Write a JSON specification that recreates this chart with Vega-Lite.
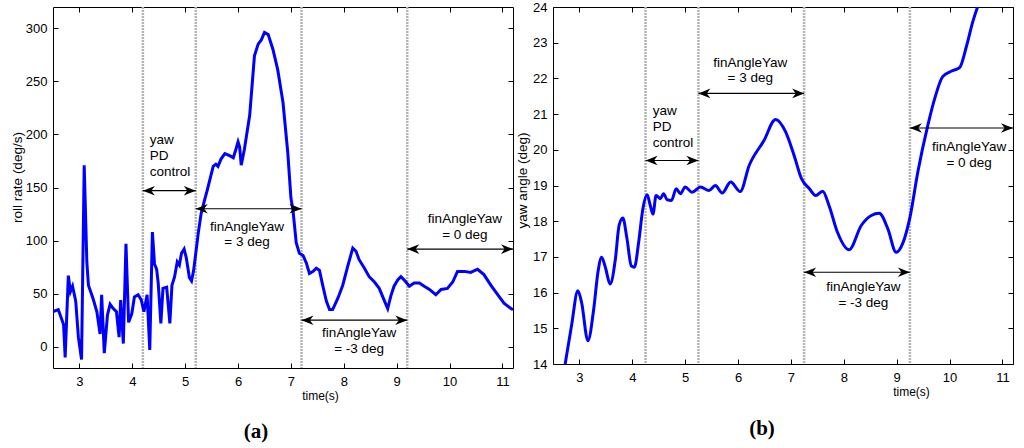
{
"$schema": "https://vega.github.io/schema/vega-lite/v6.json",
"padding": {"left": 9, "top": 0, "right": 0, "bottom": 0},
"background": "white",
"spacing": 0,
"config": {
  "font": "Liberation Sans",
  "view": {"stroke": "#000", "strokeWidth": 1},
  "axis": {"domain": false, "grid": false, "labelFont": "Liberation Sans", "labelFontSize": 13, "labelColor": "#000", "titleFont": "Liberation Sans", "titleFontWeight": "normal", "titleColor": "#000", "titleFontSize": 13.5},
  "text": {"font": "Liberation Sans", "fontSize": 13.5, "color": "#000"}
},
"datasets": {
  "roll": [
    {"t":2.5,"v":33},{"t":2.6,"v":35},{"t":2.7,"v":21},{"t":2.73,"v":-10},{"t":2.79,"v":67},{"t":2.83,"v":52},{"t":2.87,"v":57},{"t":2.93,"v":43},{"t":2.98,"v":9},{"t":3.04,"v":-12},{"t":3.09,"v":171},{"t":3.14,"v":80},{"t":3.17,"v":58},{"t":3.26,"v":45},{"t":3.33,"v":33},{"t":3.39,"v":12},{"t":3.42,"v":49},{"t":3.47,"v":-6},{"t":3.53,"v":30},{"t":3.58,"v":40},{"t":3.64,"v":36},{"t":3.7,"v":33},{"t":3.75,"v":9},{"t":3.78,"v":44},{"t":3.83,"v":3},{"t":3.88,"v":97},{"t":3.93,"v":23},{"t":3.99,"v":31},{"t":4.04,"v":47},{"t":4.11,"v":49},{"t":4.17,"v":44},{"t":4.22,"v":33},{"t":4.28,"v":49},{"t":4.33,"v":-3},{"t":4.38,"v":108},{"t":4.42,"v":78},{"t":4.46,"v":73},{"t":4.49,"v":60},{"t":4.54,"v":22},{"t":4.58,"v":55},{"t":4.65,"v":56},{"t":4.71,"v":22},{"t":4.75,"v":58},{"t":4.8,"v":66},{"t":4.85,"v":80},{"t":4.89,"v":77},{"t":4.93,"v":88},{"t":4.98,"v":92},{"t":5.02,"v":84},{"t":5.08,"v":65},{"t":5.12,"v":62},{"t":5.16,"v":72},{"t":5.2,"v":88},{"t":5.25,"v":108},{"t":5.3,"v":125},{"t":5.36,"v":137},{"t":5.42,"v":148},{"t":5.48,"v":160},{"t":5.53,"v":170},{"t":5.58,"v":172},{"t":5.62,"v":170},{"t":5.68,"v":177},{"t":5.75,"v":182},{"t":5.84,"v":180},{"t":5.91,"v":178},{"t":5.96,"v":186},{"t":6.0,"v":193},{"t":6.03,"v":188},{"t":6.06,"v":171},{"t":6.12,"v":186},{"t":6.22,"v":218},{"t":6.31,"v":274},{"t":6.38,"v":285},{"t":6.44,"v":289},{"t":6.5,"v":296},{"t":6.57,"v":294},{"t":6.66,"v":280},{"t":6.75,"v":261},{"t":6.85,"v":230},{"t":6.94,"v":183},{"t":7.0,"v":140},{"t":7.04,"v":128},{"t":7.1,"v":98},{"t":7.16,"v":88},{"t":7.23,"v":86},{"t":7.29,"v":79},{"t":7.35,"v":69},{"t":7.42,"v":71},{"t":7.48,"v":74},{"t":7.54,"v":72},{"t":7.6,"v":58},{"t":7.67,"v":43},{"t":7.73,"v":35},{"t":7.79,"v":35},{"t":7.89,"v":46},{"t":7.98,"v":58},{"t":8.08,"v":77},{"t":8.17,"v":93},{"t":8.23,"v":90},{"t":8.29,"v":82},{"t":8.39,"v":74},{"t":8.48,"v":66},{"t":8.58,"v":61},{"t":8.67,"v":55},{"t":8.77,"v":43},{"t":8.83,"v":36},{"t":8.89,"v":48},{"t":8.95,"v":57},{"t":9.02,"v":63},{"t":9.08,"v":66},{"t":9.14,"v":63},{"t":9.24,"v":57},{"t":9.33,"v":60},{"t":9.43,"v":60},{"t":9.52,"v":57},{"t":9.62,"v":54},{"t":9.74,"v":49},{"t":9.84,"v":54},{"t":9.96,"v":55},{"t":10.06,"v":61},{"t":10.15,"v":71},{"t":10.28,"v":71},{"t":10.4,"v":70},{"t":10.53,"v":73},{"t":10.65,"v":68},{"t":10.78,"v":58},{"t":10.91,"v":49},{"t":11.03,"v":41},{"t":11.16,"v":36},{"t":11.2,"v":35}
  ],
  "yaw": [
    {"t":2.73,"v":14.0},{"t":2.85,"v":15.07},{"t":2.97,"v":16.05},{"t":3.04,"v":15.73},{"t":3.16,"v":14.65},{"t":3.27,"v":15.54},{"t":3.35,"v":16.57},{"t":3.42,"v":16.99},{"t":3.49,"v":16.71},{"t":3.58,"v":16.24},{"t":3.68,"v":16.94},{"t":3.75,"v":17.88},{"t":3.82,"v":18.09},{"t":3.9,"v":17.5},{"t":3.98,"v":16.75},{"t":4.04,"v":16.71},{"t":4.12,"v":17.41},{"t":4.2,"v":18.35},{"t":4.28,"v":18.74},{"t":4.34,"v":18.44},{"t":4.39,"v":18.2},{"t":4.45,"v":18.72},{"t":4.53,"v":18.63},{"t":4.59,"v":18.77},{"t":4.66,"v":18.6},{"t":4.74,"v":18.58},{"t":4.83,"v":18.91},{"t":4.91,"v":18.77},{"t":5.0,"v":18.96},{"t":5.13,"v":18.81},{"t":5.29,"v":18.96},{"t":5.45,"v":18.86},{"t":5.57,"v":19.0},{"t":5.7,"v":18.79},{"t":5.86,"v":19.1},{"t":6.04,"v":18.83},{"t":6.21,"v":19.56},{"t":6.49,"v":20.26},{"t":6.71,"v":20.85},{"t":6.9,"v":20.5},{"t":7.06,"v":19.84},{"t":7.2,"v":19.19},{"t":7.35,"v":18.91},{"t":7.47,"v":18.72},{"t":7.6,"v":18.84},{"t":7.72,"v":18.44},{"t":7.88,"v":17.69},{"t":8.1,"v":17.2},{"t":8.33,"v":17.88},{"t":8.52,"v":18.16},{"t":8.67,"v":18.22},{"t":8.83,"v":17.8},{"t":8.99,"v":17.13},{"t":9.12,"v":17.4},{"t":9.25,"v":18.1},{"t":9.4,"v":19.38},{"t":9.59,"v":20.69},{"t":9.72,"v":21.44},{"t":9.87,"v":22.05},{"t":10.03,"v":22.2},{"t":10.19,"v":22.3},{"t":10.32,"v":22.9},{"t":10.44,"v":23.59},{"t":10.53,"v":24.0}
  ],
  "vlinesA": [{"t":4.2},{"t":5.2},{"t":7.2},{"t":9.2}],
  "vlinesB": [{"t":4.25},{"t":5.25},{"t":7.25},{"t":9.25}],
  "arrowsA": [{"x1":4.2,"x2":5.2,"y":147},{"x1":5.2,"x2":7.2,"y":130},{"x1":7.2,"x2":9.2,"y":25},{"x1":9.2,"x2":11.2,"y":92}],
  "arrowsB": [{"x1":4.25,"x2":5.25,"y":19.7},{"x1":5.25,"x2":7.25,"y":21.58},{"x1":7.25,"x2":9.25,"y":16.57},{"x1":9.25,"x2":11.2,"y":20.61}],
  "labelsA": [
    {"t":4.33,"v":195,"text":"yaw","kind":"left"},{"t":4.33,"v":180,"text":"PD","kind":"left"},{"t":4.33,"v":165,"text":"control","kind":"left"},
    {"t":6.17,"v":113,"text":"finAngleYaw","kind":"center"},{"t":6.17,"v":99,"text":"= 3 deg","kind":"center"},
    {"t":8.29,"v":12.8,"text":"finAngleYaw","kind":"center"},{"t":8.29,"v":-2.2,"text":"= -3 deg","kind":"center"},
    {"t":10.29,"v":120.5,"text":"finAngleYaw","kind":"center"},{"t":10.29,"v":105.5,"text":"= 0 deg","kind":"center"}
  ],
  "labelsB": [
    {"t":4.385,"v":21.09,"text":"yaw","kind":"left"},{"t":4.385,"v":20.64,"text":"PD","kind":"left"},{"t":4.385,"v":20.19,"text":"control","kind":"left"},
    {"t":6.23,"v":22.44,"text":"finAngleYaw","kind":"center"},{"t":6.23,"v":22.0,"text":"= 3 deg","kind":"center"},
    {"t":8.37,"v":16.17,"text":"finAngleYaw","kind":"center"},{"t":8.37,"v":15.72,"text":"= -3 deg","kind":"center"},
    {"t":10.37,"v":20.08,"text":"finAngleYaw","kind":"center"},{"t":10.37,"v":19.64,"text":"= 0 deg","kind":"center"}
  ]
},
"hconcat": [
{
  "width": 460, "height": 361,
  "title": {"text": "(a)", "orient": "bottom", "frame": "group", "anchor": "middle", "dx": -27, "offset": 20, "font": "Liberation Serif", "fontSize": 21, "fontWeight": "bold", "color": "#000"},
  "resolve": {"axis": {"x": "independent", "y": "independent"}},
  "layer": [
    {"data": {"name": "vlinesA"}, "mark": {"type": "rule", "color": "#b4b4b4", "strokeWidth": 2.5, "strokeDash": [2, 1]},
     "encoding": {"x": {"field": "t", "type": "quantitative", "scale": {"domain": [2.5, 11.2], "nice": false, "zero": false}, "axis": null}}},
    {"data": {"name": "roll"}, "mark": {"type": "line", "color": "#0000ff", "strokeWidth": 3, "clip": true},
     "encoding": {
       "x": {"field": "t", "type": "quantitative", "scale": {"domain": [2.5, 11.2], "nice": false, "zero": false}, "axis": {"orient": "bottom", "values": [3,4,5,6,7,8,9,10,11], "ticks": true, "tickSize": -361, "tickDash": [5, 351], "tickColor": "#000", "tickWidth": 1, "tickOpacity": 1, "labelPadding": 368, "title": "time(s)", "titleX": 267, "titlePadding": 2, "titleFontSize": 12}},
       "y": {"field": "v", "type": "quantitative", "scale": {"domain": [-20, 320], "nice": false, "zero": false}, "axis": {"orient": "left", "values": [0,50,100,150,200,250,300], "ticks": true, "tickSize": -460, "tickDash": [5, 450], "tickColor": "#000", "tickWidth": 1, "tickOpacity": 1, "labelPadding": 466, "title": "roll rate (deg/s)", "titleY": 170, "titlePadding": 1}}}},
    {"data": {"name": "arrowsA"}, "mark": {"type": "rule", "color": "#000", "strokeWidth": 1.2},
     "encoding": {
       "x": {"field": "x1", "type": "quantitative", "scale": {"domain": [2.5, 11.2], "nice": false, "zero": false}, "axis": null},
       "x2": {"field": "x2"},
       "y": {"field": "y", "type": "quantitative", "scale": {"domain": [-20, 320], "nice": false, "zero": false}, "axis": null}}},
    {"data": {"name": "arrowsA"}, "mark": {"type": "point", "shape": "M0,0L2,-0.8L1.4,0L2,0.8Z", "size": 144, "filled": true, "color": "#000", "opacity": 1},
     "encoding": {
       "x": {"field": "x1", "type": "quantitative", "scale": {"domain": [2.5, 11.2], "nice": false, "zero": false}, "axis": null},
       "y": {"field": "y", "type": "quantitative", "scale": {"domain": [-20, 320], "nice": false, "zero": false}, "axis": null}}},
    {"data": {"name": "arrowsA"}, "mark": {"type": "point", "shape": "M0,0L-2,-0.8L-1.4,0L-2,0.8Z", "size": 144, "filled": true, "color": "#000", "opacity": 1},
     "encoding": {
       "x": {"field": "x2", "type": "quantitative", "scale": {"domain": [2.5, 11.2], "nice": false, "zero": false}, "axis": null},
       "y": {"field": "y", "type": "quantitative", "scale": {"domain": [-20, 320], "nice": false, "zero": false}, "axis": null}}},
    {"data": {"name": "labelsA"}, "transform": [{"filter": "datum.kind == 'left'"}], "mark": {"type": "text", "align": "left", "baseline": "middle"},
     "encoding": {
       "x": {"field": "t", "type": "quantitative", "scale": {"domain": [2.5, 11.2], "nice": false, "zero": false}, "axis": null},
       "y": {"field": "v", "type": "quantitative", "scale": {"domain": [-20, 320], "nice": false, "zero": false}, "axis": null},
       "text": {"field": "text"}}},
    {"data": {"name": "labelsA"}, "transform": [{"filter": "datum.kind == 'center'"}], "mark": {"type": "text", "align": "center", "baseline": "middle"},
     "encoding": {
       "x": {"field": "t", "type": "quantitative", "scale": {"domain": [2.5, 11.2], "nice": false, "zero": false}, "axis": null},
       "y": {"field": "v", "type": "quantitative", "scale": {"domain": [-20, 320], "nice": false, "zero": false}, "axis": null},
       "text": {"field": "text"}}}
  ]
},
{
  "width": 460, "height": 357,
  "title": {"text": "(b)", "orient": "bottom", "frame": "group", "anchor": "middle", "dx": -21, "offset": 21, "font": "Liberation Serif", "fontSize": 21, "fontWeight": "bold", "color": "#000"},
  "resolve": {"axis": {"x": "independent", "y": "independent"}},
  "layer": [
    {"data": {"name": "vlinesB"}, "mark": {"type": "rule", "color": "#b4b4b4", "strokeWidth": 2.5, "strokeDash": [2, 1]},
     "encoding": {"x": {"field": "t", "type": "quantitative", "scale": {"domain": [2.5, 11.2], "nice": false, "zero": false}, "axis": null}}},
    {"data": {"name": "yaw"}, "mark": {"type": "line", "color": "#0000ff", "strokeWidth": 3, "clip": true, "interpolate": "monotone"},
     "encoding": {
       "x": {"field": "t", "type": "quantitative", "scale": {"domain": [2.5, 11.2], "nice": false, "zero": false}, "axis": {"orient": "bottom", "values": [3,4,5,6,7,8,9,10,11], "ticks": true, "tickSize": -357, "tickDash": [5, 347], "tickColor": "#000", "tickWidth": 1, "tickOpacity": 1, "labelPadding": 364, "title": "time(s)", "titleX": 358, "titlePadding": 2, "titleFontSize": 12}},
       "y": {"field": "v", "type": "quantitative", "scale": {"domain": [14, 24], "nice": false, "zero": false}, "axis": {"orient": "left", "values": [14,15,16,17,18,19,20,21,22,23,24], "labelOverlap": false, "ticks": true, "tickSize": -460, "tickDash": [5, 450], "tickColor": "#000", "tickWidth": 1, "tickOpacity": 1, "labelPadding": 466, "title": "yaw angle (deg)", "titleY": 173, "titlePadding": 3}}}},
    {"data": {"name": "arrowsB"}, "mark": {"type": "rule", "color": "#000", "strokeWidth": 1.2},
     "encoding": {
       "x": {"field": "x1", "type": "quantitative", "scale": {"domain": [2.5, 11.2], "nice": false, "zero": false}, "axis": null},
       "x2": {"field": "x2"},
       "y": {"field": "y", "type": "quantitative", "scale": {"domain": [14, 24], "nice": false, "zero": false}, "axis": null}}},
    {"data": {"name": "arrowsB"}, "mark": {"type": "point", "shape": "M0,0L2,-0.8L1.4,0L2,0.8Z", "size": 144, "filled": true, "color": "#000", "opacity": 1},
     "encoding": {
       "x": {"field": "x1", "type": "quantitative", "scale": {"domain": [2.5, 11.2], "nice": false, "zero": false}, "axis": null},
       "y": {"field": "y", "type": "quantitative", "scale": {"domain": [14, 24], "nice": false, "zero": false}, "axis": null}}},
    {"data": {"name": "arrowsB"}, "mark": {"type": "point", "shape": "M0,0L-2,-0.8L-1.4,0L-2,0.8Z", "size": 144, "filled": true, "color": "#000", "opacity": 1},
     "encoding": {
       "x": {"field": "x2", "type": "quantitative", "scale": {"domain": [2.5, 11.2], "nice": false, "zero": false}, "axis": null},
       "y": {"field": "y", "type": "quantitative", "scale": {"domain": [14, 24], "nice": false, "zero": false}, "axis": null}}},
    {"data": {"name": "labelsB"}, "transform": [{"filter": "datum.kind == 'left'"}], "mark": {"type": "text", "align": "left", "baseline": "middle"},
     "encoding": {
       "x": {"field": "t", "type": "quantitative", "scale": {"domain": [2.5, 11.2], "nice": false, "zero": false}, "axis": null},
       "y": {"field": "v", "type": "quantitative", "scale": {"domain": [14, 24], "nice": false, "zero": false}, "axis": null},
       "text": {"field": "text"}}},
    {"data": {"name": "labelsB"}, "transform": [{"filter": "datum.kind == 'center'"}], "mark": {"type": "text", "align": "center", "baseline": "middle"},
     "encoding": {
       "x": {"field": "t", "type": "quantitative", "scale": {"domain": [2.5, 11.2], "nice": false, "zero": false}, "axis": null},
       "y": {"field": "v", "type": "quantitative", "scale": {"domain": [14, 24], "nice": false, "zero": false}, "axis": null},
       "text": {"field": "text"}}}
  ]
}
]
}
